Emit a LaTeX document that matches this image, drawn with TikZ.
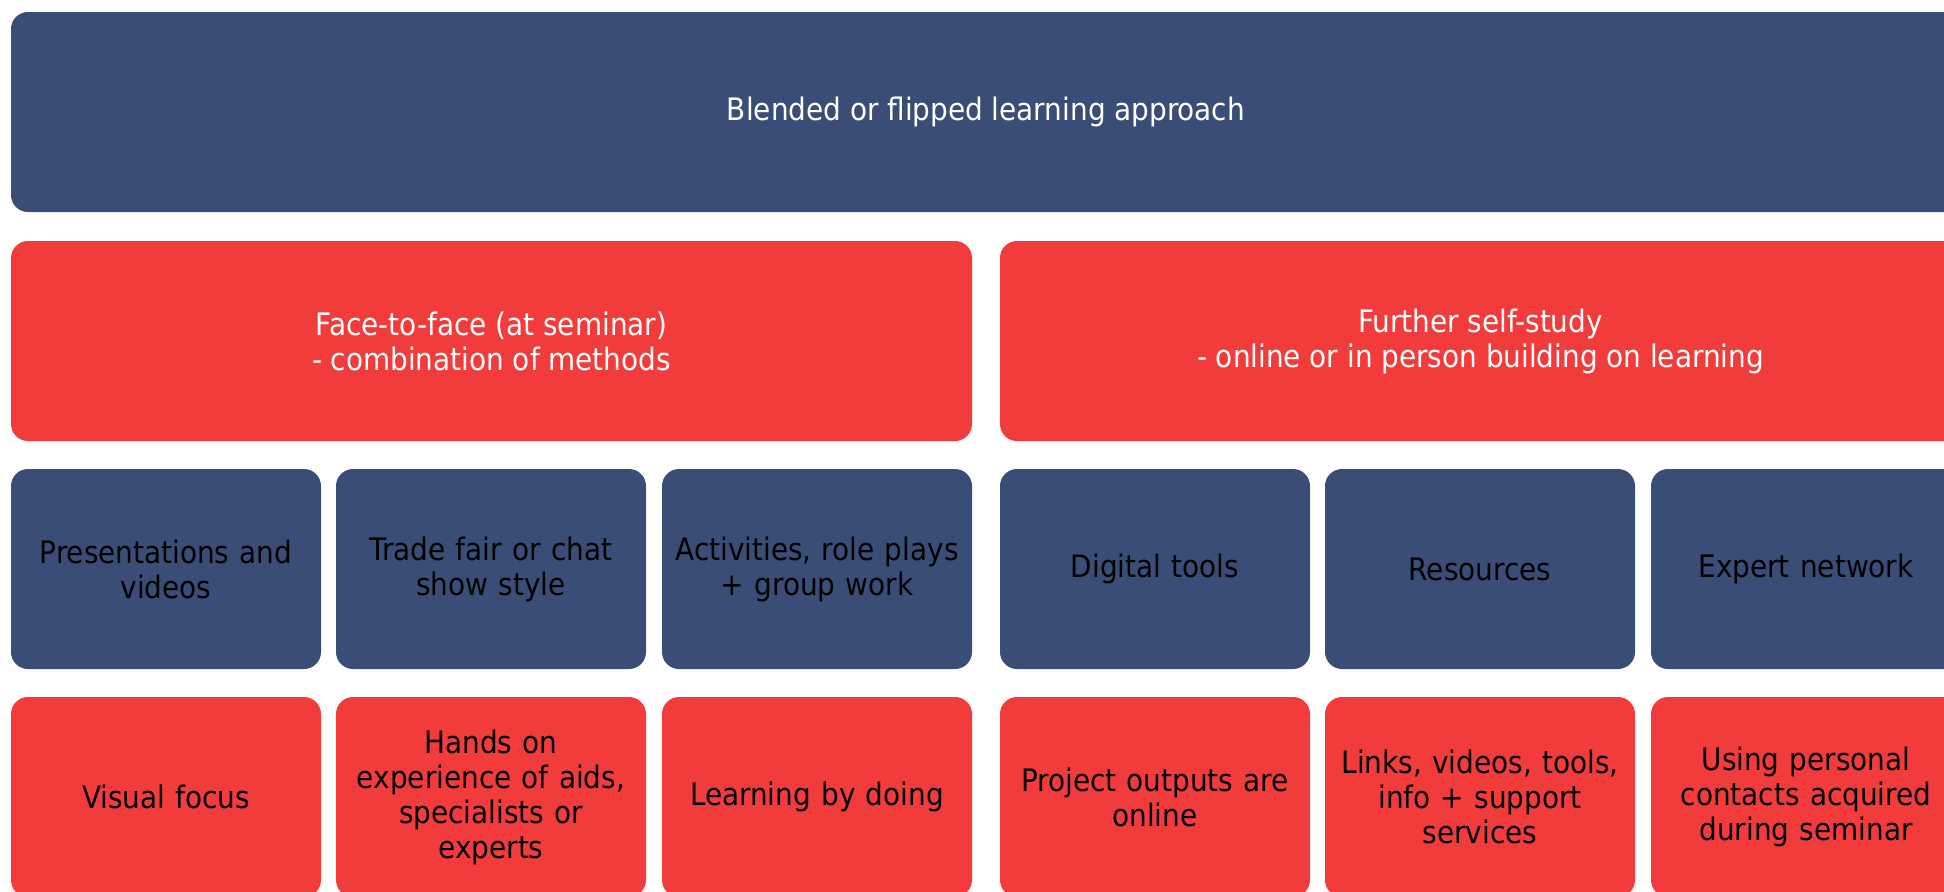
\documentclass[tikz,border=0pt]{standalone}
\usepackage{fontspec}
\setmainfont{DejaVu Sans Condensed}
\usepackage{tikz}

\definecolor{navy}{HTML}{3A4D77}
\definecolor{tomato}{HTML}{F23C3C}

\tikzset{
  box/.style={rounded corners=8.5pt, inner sep=0pt, align=center,
    font=\fontsize{15.5}{17.5}\selectfont},
  bluebox/.style={box, fill=navy},
  redbox/.style={box, fill=tomato},
  small/.style={minimum width=155pt, minimum height=100pt, text width=148pt},
}

\begin{document}
\begin{tikzpicture}[x=0.5pt, y=-0.5pt]
  \clip (0,0) rectangle (1944,891);

  \node [bluebox, minimum width=975pt, minimum height=100pt, text=white] (approach) at (986,112) {Blended or flipped learning approach};

  \node [redbox, minimum width=480.5pt, minimum height=100pt, text=white] (face) at (491.5,341) {Face-to-face (at seminar)\\- combination of methods};
  \node [redbox, minimum width=480.5pt, minimum height=100pt, text=white] (self) at (1480.5,341) {Further self-study\\- online or in person building on learning};

  \node [bluebox, small] (pres) at (166,569) {Presentations and\\videos};
  \node [bluebox, small] (fair) at (491,569) {Trade fair or chat\\show style};
  \node [bluebox, small] (act) at (817,569) {Activities, role plays\\+ group work};
  \node [bluebox, small] (digital) at (1155,569) {Digital tools};
  \node [bluebox, small] (res) at (1480,569) {Resources};
  \node [bluebox, small] (expert) at (1806,569) {Expert network};

  \node [redbox, small] (visual) at (166,797) {Visual focus};
  \node [redbox, small] (hands) at (491,797) {Hands on\\experience of aids,\\specialists or\\experts};
  \node [redbox, small] (doing) at (817,797) {Learning by doing};
  \node [redbox, small] (outputs) at (1155,797) {Project outputs are\\online};
  \node [redbox, small] (links) at (1480,797) {Links, videos, tools,\\info + support\\services};
  \node [redbox, small] (contacts) at (1806,797) {Using personal\\contacts acquired\\during seminar};
\end{tikzpicture}
\end{document}
